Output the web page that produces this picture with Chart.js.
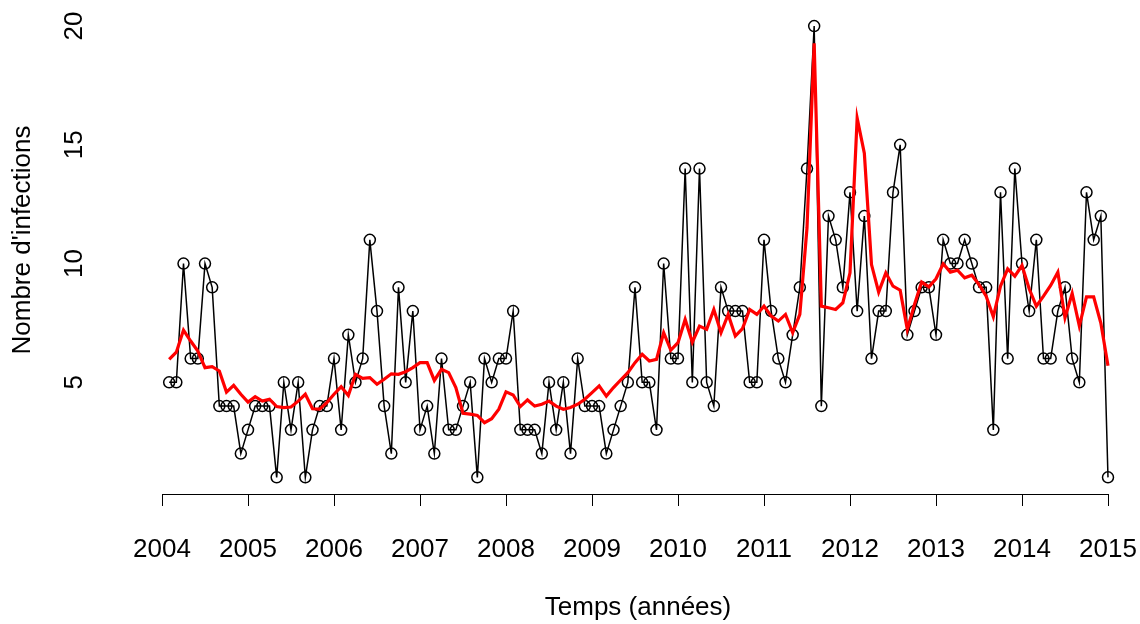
<!DOCTYPE html>
<html>
<head>
<meta charset="utf-8">
<script src="https://cdn.jsdelivr.net/npm/chart.js@4"></script>
<style>
  html, body { margin: 0; padding: 0; background: #fff; }
  #wrap { width: 1140px; height: 624px; position: relative; }
</style>
</head>
<body>
<div id="wrap"><canvas id="chart"></canvas></div>
<script>
// serie mensuelle, debut fevrier 2004 (ts start = c(2004, 2), frequency 12)
const startYear  = 2004;
const startMonth = 2;

// nombre d'infections observe (points noirs)
const infections = [
  5, 5, 10, 6, 6, 10, 9, 4, 4, 4, 2, 3,
  4, 4, 4, 1, 5, 3, 5, 1, 3, 4, 4, 6,
  3, 7, 5, 6, 11, 8, 4, 2, 9, 5, 8, 3,
  4, 2, 6, 3, 3, 4, 5, 1, 6, 5, 6, 6,
  8, 3, 3, 3, 2, 5, 3, 5, 2, 6, 4, 4,
  4, 2, 3, 4, 5, 9, 5, 5, 3, 10, 6, 6,
  14, 5, 14, 5, 4, 9, 8, 8, 8, 5, 5, 11,
  8, 6, 5, 7, 9, 14, 20, 4, 12, 11, 9, 13,
  8, 12, 6, 8, 8, 13, 15, 7, 8, 9, 9, 7,
  11, 10, 10, 11, 10, 9, 9, 3, 13, 6, 14, 10,
  8, 11, 6, 6, 8, 9, 6, 5, 13, 11, 12, 1
];

// valeurs ajustees (courbe rouge)
const fitted = [
  5.97, 6.27, 7.2, 6.74, 6.32, 5.62, 5.66, 5.48, 4.59, 4.87, 4.5, 4.17,
  4.4, 4.21, 4.29, 3.98, 3.94, 3.96, 4.21, 4.5, 3.89, 3.87, 4.15, 4.5,
  4.82, 4.45, 5.34, 5.17, 5.2, 4.92, 5.13, 5.36, 5.34, 5.45, 5.62, 5.83,
  5.83, 5.08, 5.55, 5.41, 4.78, 3.7, 3.66, 3.61, 3.3, 3.47, 3.87, 4.6,
  4.47, 3.98, 4.26, 4.0, 4.08, 4.21, 4.0, 3.87, 3.94, 4.08, 4.29, 4.57,
  4.85, 4.42, 4.78, 5.1, 5.41, 5.83, 6.18, 5.9, 5.97, 7.09, 6.36, 6.67,
  7.65, 6.69, 7.37, 7.23, 8.07, 7.09, 7.86, 6.95, 7.26, 8.07, 7.86, 8.21,
  7.79, 7.58, 7.86, 7.09, 7.86, 11.5, 19.27, 8.21, 8.14, 8.07, 8.35, 9.61,
  16.12, 14.65, 9.96, 8.8, 9.61, 9.05, 8.88, 7.23, 8.28, 9.22, 9.02, 9.36,
  9.99, 9.64, 9.72, 9.4, 9.51, 9.12, 8.63, 7.76, 9.05, 9.78, 9.47, 9.92,
  8.94, 8.21, 8.63, 9.08, 9.64, 7.72, 8.74, 7.37, 8.6, 8.6, 7.5, 5.7
];

// graduations
const xTicks = [2004, 2005, 2006, 2007, 2008, 2009, 2010, 2011, 2012, 2013, 2014, 2015];
const yTicks = [5, 10, 15, 20];

const xTitle = 'Temps (années)';
const yTitle = "Nombre d'infections";

const FONT = '26px "Liberation Sans", Arial, Helvetica, sans-serif';

// temps decimal de chaque mois
const times = infections.map((_, k) => startYear + (startMonth - 1 + k) / 12);

// axes dessines facon R (ligne de 2004 a 2015, etiquettes y tournees)
const rAxes = {
  id: 'rAxes',
  afterDraw(chart) {
    const { ctx, chartArea, scales: { x, y } } = chart;
    const base = chartArea.bottom;
    ctx.save();
    ctx.strokeStyle = '#000';
    ctx.lineWidth = 1;
    ctx.beginPath();
    ctx.moveTo(x.getPixelForValue(xTicks[0]), base + 0.5);
    ctx.lineTo(x.getPixelForValue(xTicks.at(-1)), base + 0.5);
    xTicks.forEach(t => {
      const px = Math.round(x.getPixelForValue(t)) + 0.5;
      ctx.moveTo(px, base);
      ctx.lineTo(px, base + 12);
    });
    ctx.stroke();

    ctx.fillStyle = '#000';
    ctx.font = FONT;
    ctx.textAlign = 'center';
    ctx.textBaseline = 'middle';
    xTicks.forEach(t => ctx.fillText(String(t), x.getPixelForValue(t), 550));
    yTicks.forEach(t => {
      ctx.save();
      ctx.translate(75, y.getPixelForValue(t));
      ctx.rotate(-Math.PI / 2);
      ctx.fillText(String(t), 0, 0);
      ctx.restore();
    });

    // titres
    ctx.fillText(xTitle, 638, 608);
    ctx.save();
    ctx.translate(23, 240);
    ctx.rotate(-Math.PI / 2);
    ctx.fillText(yTitle, 0, 0);
    ctx.restore();
    ctx.restore();
  }
};

new Chart(document.getElementById('chart'), {
  type: 'line',
  data: {
    datasets: [
      {
        label: 'ajuste',
        data: times.map((t, k) => ({ x: t, y: fitted[k] })),
        borderColor: '#ff0000',
        borderWidth: 3.2,
        pointRadius: 0,
        tension: 0,
        fill: false,
        clip: false,
        order: 0
      },
      {
        label: 'infections',
        data: times.map((t, k) => ({ x: t, y: infections[k] })),
        borderColor: '#000',
        borderWidth: 1.5,
        pointRadius: 5.5,
        pointBorderWidth: 1.5,
        pointBorderColor: '#000',
        pointBackgroundColor: 'rgba(0,0,0,0)',
        tension: 0,
        fill: false,
        clip: false,
        order: 1
      }
    ]
  },
  options: {
    responsive: true,
    maintainAspectRatio: false,
    animation: false,
    layout: { padding: { left: 162, right: 32, top: 8, bottom: 130 } },
    plugins: { legend: { display: false }, tooltip: { enabled: false } },
    scales: {
      x: { type: 'linear', min: 2004, max: 2015, display: false },
      y: { type: 'linear', min: 0.3, max: 20.76, display: false }
    }
  },
  plugins: [rAxes]
});
</script>
</body>
</html>
